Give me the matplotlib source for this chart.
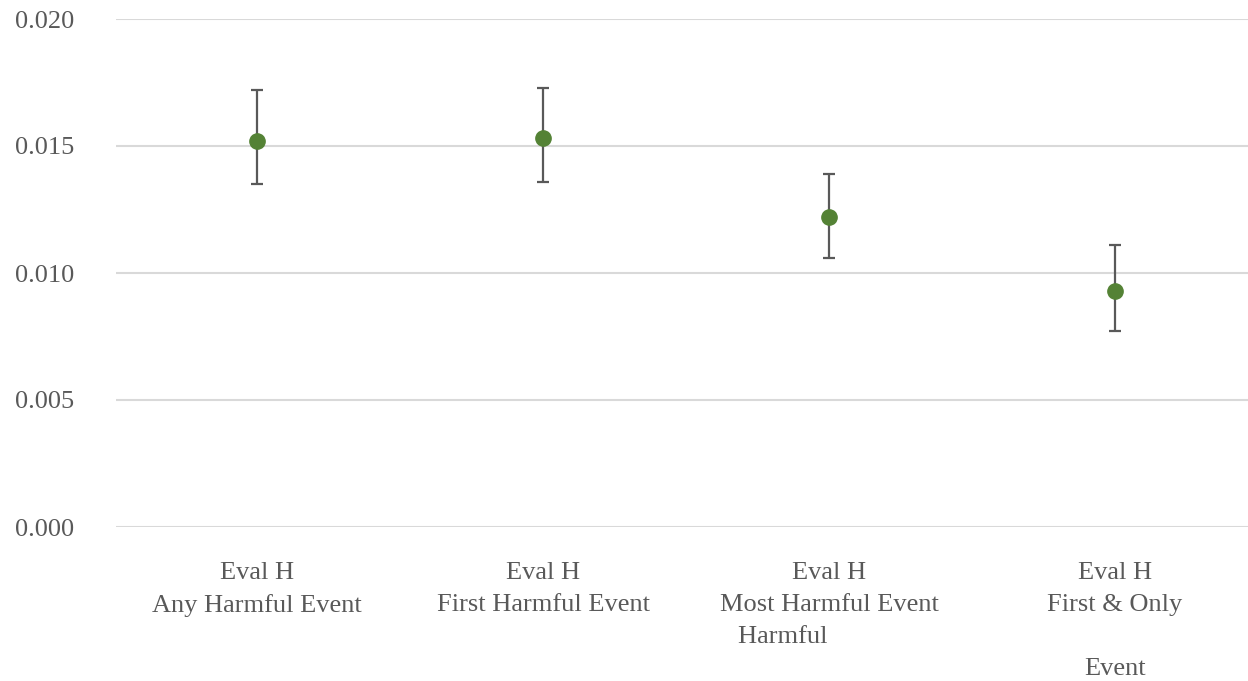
import numpy as np
import matplotlib.pyplot as plt

# data
categories = ["Eval H\nAny Harmful Event",
              "Eval H\nFirst Harmful Event",
              "Eval H\nMost Harmful Event\nHarmful              ",
              "Eval H\nFirst & Only\n\nEvent"]
estimate = [0.0152, 0.0153, 0.0122, 0.0093]
lower = [0.0135, 0.0136, 0.0106, 0.0077]
upper = [0.0172, 0.0173, 0.0139, 0.0111]
yticks = [0.000, 0.005, 0.010, 0.015, 0.020]

GREEN = "#548235"
GREY = "#595959"
GRID = "#d9d9d9"

plt.rcParams["font.family"] = ["Liberation Serif", "DejaVu Serif"]

fig = plt.figure(figsize=(12.48, 6.81), dpi=100)
ax = fig.add_axes([116/1248, 1-527/681, 1132/1248, 508/681])

x = np.arange(len(categories))
est = np.array(estimate)
yerr = [est - np.array(lower), np.array(upper) - est]

ax.errorbar(x, est, yerr=yerr, fmt="o", color=GREEN, markersize=11,
            ecolor=GREY, elinewidth=1.6, capsize=4.5, capthick=1.6, zorder=3)

ax.set_xlim(-0.493, 3.465)
ax.set_ylim(0, 0.020)
ax.set_yticks(yticks)
ax.set_yticklabels(["%.3f" % v for v in yticks])
ax.set_xticks(x)
ax.set_xticklabels(categories, linespacing=1.6)

ax.grid(axis="y", color=GRID, linewidth=1.5)
ax.set_axisbelow(True)
for s in ax.spines.values():
    s.set_visible(False)
ax.tick_params(axis="y", length=0, pad=30, labelsize=19, labelcolor=GREY)
ax.tick_params(axis="x", length=0, pad=25, labelsize=19, labelcolor=GREY)

fig.savefig("out.png", dpi=100)
